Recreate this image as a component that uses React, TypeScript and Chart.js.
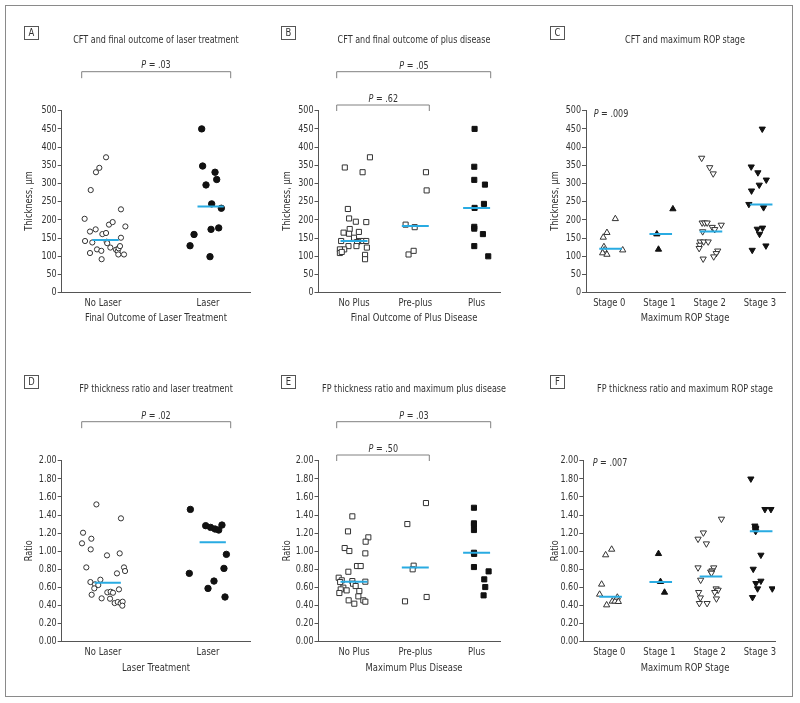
import React, { useEffect, useRef } from 'react';
import { Chart, registerables } from 'chart.js';

Chart.register(...registerables);

const FONT = "'Liberation Sans Narrow', 'DejaVu Sans Condensed', 'Arial Narrow', sans-serif";
const TEXT = '#333333';
const MED = '#29abe2';
const AXIS = '#555555';
const SQUEEZE = 0.85;

// ---------- categories ----------
const laserCats = ['No Laser', 'Laser'];
const plusCats = ['No Plus', 'Pre-plus', 'Plus'];
const stageCats = ['Stage 0', 'Stage 1', 'Stage 2', 'Stage 3'];

// ---------- tick settings ----------
const cftMax = 500;
const cftStep = 50;
const ratioMax = 2;
const ratioStep = 0.2;

// ---------- Panel A: CFT vs laser ----------
const aNoLaserVals = [203, 282, 331, 343, 372, 142, 168, 174, 138, 109, 119, 115, 92, 161, 164, 140, 136, 187, 194, 124, 118, 114, 122, 128, 105, 105, 151, 229, 182];
const aNoLaserJit = [-0.175, -0.117, -0.067, -0.035, 0.029, -0.171, -0.124, -0.07, -0.102, -0.124, -0.057, -0.016, -0.013, -0.006, 0.029, 0.035, 0.04, 0.057, 0.092, 0.07, 0.124, 0.14, 0.149, 0.162, 0.146, 0.2, 0.171, 0.171, 0.213];
const aLaserVals = [450, 348, 296, 331, 311, 244, 232, 160, 129, 174, 178, 99];
const aLaserJit = [-0.06, -0.051, -0.019, 0.067, 0.083, 0.035, 0.127, -0.133, -0.171, 0.029, 0.102, 0.019];
const aMedians = [145, 237];

// ---------- Panel B: CFT vs plus disease ----------
const bNoPlusVals = [372, 344, 331, 230, 204, 195, 194, 175, 167, 165, 162, 151, 142, 142, 142, 142, 139, 128, 128, 124, 119, 119, 109, 104, 92, 112];
const bNoPlusJit = [0.26, -0.15, 0.14, -0.1, -0.08, 0.03, 0.2, -0.07, 0.08, -0.17, -0.08, 0, -0.21, 0.09, 0.15, 0.2, 0.05, -0.09, 0.04, 0.21, -0.16, -0.23, -0.23, 0.18, 0.18, -0.2];
const bPrePlusVals = [187, 180, 105, 115, 331, 281];
const bPrePlusJit = [-0.158, -0.01, -0.11, -0.027, 0.174, 0.185];
const bPlusVals = [450, 346, 310, 297, 244, 233, 181, 176, 161, 128, 100];
const bPlusJit = [-0.033, -0.038, -0.038, 0.136, 0.12, -0.033, -0.038, -0.038, 0.103, -0.038, 0.19];
const bMedians = [142, 183, 233];

// ---------- Panel C: CFT vs ROP stage ----------
const cStage0Vals = [203, 165, 152, 126, 117, 109, 105, 117];
const cStage0Jit = [0.12, -0.047, -0.12, -0.107, -0.1, -0.133, -0.047, 0.267];
const cStage1Vals = [230, 161, 119];
const cStage1Jit = [0.267, -0.053, -0.02];
const cStage2Vals = [370, 344, 327, 192, 192, 192, 186, 180, 174, 168, 140, 140, 140, 131, 122, 115, 108, 99, 93];
const cStage2Jit = [-0.16, 0, 0.07, -0.15, -0.1, -0.05, 0.23, 0.05, 0.1, -0.14, -0.19, -0.12, -0.03, -0.2, -0.21, 0.16, 0.13, 0.08, -0.13];
const cStage3Vals = [450, 346, 330, 310, 296, 280, 243, 234, 175, 178, 161, 117, 129];
const cStage3Jit = [0.047, -0.173, -0.04, 0.127, -0.013, -0.167, -0.22, 0.073, -0.053, 0.053, -0.007, -0.153, 0.12];
const cMedians = [121, 161, 168, 242];

// ---------- Panel D: ratio vs laser ----------
const dNoLaserVals = [1.517, 1.204, 1.087, 1.138, 1.02, 1.363, 0.954, 0.976, 0.821, 0.821, 0.781, 0.755, 0.659, 0.685, 0.634, 0.626, 0.589, 0.519, 0.479, 0.545, 0.552, 0.541, 0.578, 0.475, 0.427, 0.438, 0.424, 0.442, 0.398];
const dNoLaserJit = [-0.063, -0.19, -0.2, -0.111, -0.117, 0.171, 0.038, 0.159, -0.159, 0.2, 0.21, 0.133, -0.12, -0.025, -0.076, -0.045, -0.083, -0.108, -0.013, 0.041, 0.073, 0.095, 0.152, 0.067, 0.111, 0.14, 0.168, 0.187, 0.184];
const dLaserVals = [1.462, 1.282, 1.263, 1.245, 1.234, 1.289, 0.965, 0.81, 0.755, 0.67, 0.589, 0.494];
const dLaserJit = [-0.168, -0.022, 0.025, 0.067, 0.102, 0.133, 0.175, 0.152, -0.178, 0.057, 0, 0.162];
const dMedians = [0.652, 1.098];

// ---------- Panel E: ratio vs plus disease ----------
const eNoPlusVals = [1.385, 1.219, 1.035, 1.002, 1.153, 1.105, 0.976, 0.773, 0.836, 0.836, 0.707, 0.678, 0.659, 0.67, 0.663, 0.597, 0.578, 0.567, 0.538, 0.641, 0.615, 0.56, 0.501, 0.457, 0.42, 0.457, 0.442];
const eNoPlusJit = [-0.027, -0.098, -0.152, -0.076, 0.234, 0.19, 0.185, -0.092, 0.049, 0.109, -0.25, -0.2, -0.226, -0.027, 0.185, -0.174, -0.217, -0.12, -0.239, -0.016, 0.027, 0.087, 0.071, -0.087, 0.005, 0.152, 0.185];
const ePrePlusVals = [1.3, 1.532, 0.84, 0.8, 0.446, 0.494];
const ePrePlusJit = [-0.13, 0.174, -0.027, -0.043, -0.168, 0.185];
const ePlusVals = [1.48, 1.308, 1.289, 1.234, 0.983, 0.97, 0.825, 0.777, 0.689, 0.604, 0.512];
const ePlusJit = [-0.043, -0.043, -0.043, -0.043, -0.043, -0.04, -0.043, 0.196, 0.125, 0.141, 0.114];
const eMedians = [0.663, 0.821, 0.983];

// ---------- Panel F: ratio vs ROP stage ----------
const fStage0Vals = [1.02, 0.958, 0.634, 0.523, 0.405, 0.446, 0.446, 0.49, 0.442];
const fStage0Jit = [0.047, -0.073, -0.153, -0.193, -0.053, 0.06, 0.113, 0.16, 0.18];
const fStage1Vals = [0.972, 0.663, 0.545];
const fStage1Jit = [-0.02, 0.02, 0.1];
const fStage2Vals = [1.356, 1.204, 1.135, 1.083, 0.818, 0.818, 0.785, 0.772, 0.759, 0.682, 0.586, 0.571, 0.546, 0.546, 0.486, 0.475, 0.424, 0.424];
const fStage2Jit = [0.234, -0.126, -0.232, -0.066, -0.232, 0.08, 0.047, 0.02, 0.035, -0.18, 0.128, 0.168, 0.1, -0.22, -0.186, 0.134, -0.206, -0.052];
const fStage3Vals = [1.8, 1.463, 1.463, 1.28, 1.26, 1.25, 1.24, 1.22, 0.958, 0.803, 0.645, 0.671, 0.586, 0.586, 0.49];
const fStage3Jit = [-0.18, 0.1, 0.22, -0.1, -0.09, -0.08, -0.09, -0.085, 0.02, -0.133, -0.08, 0.02, -0.047, 0.247, -0.147];
const fMedians = [0.497, 0.659, 0.72, 1.22];

// ---------- P values ----------
const pA = '.03';
const pB1 = '.05';
const pB2 = '.62';
const pC = '.009';
const pD = '.02';
const pE1 = '.03';
const pE2 = '.50';
const pF = '.007';

// ---------- marker styles ----------
const openC = '#333333';
const fillC = '#111111';
const MARK: Record<string, any> = {
  openCircle: { pointStyle: 'circle', pointRadius: 2.6, pointBorderWidth: 1, pointBackgroundColor: '#fff', pointBorderColor: openC, pointRotation: 0 },
  filledCircle: { pointStyle: 'circle', pointRadius: 3.2, pointBorderWidth: 1, pointBackgroundColor: fillC, pointBorderColor: fillC, pointRotation: 0 },
  openSquare: { pointStyle: 'rect', pointRadius: 3.6, pointBorderWidth: 1, pointBackgroundColor: '#fff', pointBorderColor: openC, pointRotation: 0 },
  filledSquare: { pointStyle: 'rect', pointRadius: 3.6, pointBorderWidth: 1, pointBackgroundColor: fillC, pointBorderColor: fillC, pointRotation: 0 },
  openTriUp: { pointStyle: 'triangle', pointRadius: 3.6, pointBorderWidth: 1, pointBackgroundColor: '#fff', pointBorderColor: openC, pointRotation: 0 },
  filledTriUp: { pointStyle: 'triangle', pointRadius: 3.6, pointBorderWidth: 1, pointBackgroundColor: fillC, pointBorderColor: fillC, pointRotation: 0 },
  openTriDown: { pointStyle: 'triangle', pointRadius: 3.6, pointBorderWidth: 1, pointBackgroundColor: '#fff', pointBorderColor: openC, pointRotation: 180 },
  filledTriDown: { pointStyle: 'triangle', pointRadius: 3.6, pointBorderWidth: 1, pointBackgroundColor: fillC, pointBorderColor: fillC, pointRotation: 180 },
};

type Group = { vals: number[]; jit: number[]; mark: string };
type Bracket = { x1: number; x2: number; y: number; h: number; p: string; tx: number; ty: number };
type Panel = {
  cx: number; cy: number; cw: number; ch: number;
  axisL: number; axisR: number; p0: number; step: number;
  plotTop: number; plotBottom: number;
  yMax: number; yStep: number; yDigits: number;
  cats: string[]; groups: Group[]; medians: number[]; medSpan: [number, number];
  letter: string; boxX: number; boxY: number;
  title: string; titleX: number; titleY: number;
  yTitle: string; yTitleX: number; yTitleY: number;
  xTitle: string; xTitleX: number; xTitleY: number;
  brackets: Bracket[];
  inner?: { p: string; x: number; y: number };
};

const TOP = { cy: 16, ch: 330, plotTop: 110.7, plotBottom: 292.7, titleY: 40.7, boxY: 26, yTitleY: 201, xTitleY: 317.7 };
const BOT = { cy: 360, ch: 335, plotTop: 460.7, plotBottom: 641.7, titleY: 389.3, boxY: 375, yTitleY: 550.7, xTitleY: 668.3 };

const panels: Panel[] = [
  {
    cx: 8, cy: TOP.cy, cw: 258, ch: TOP.ch, axisL: 61.7, axisR: 250, p0: 103, step: 105,
    plotTop: TOP.plotTop, plotBottom: TOP.plotBottom, yMax: cftMax, yStep: cftStep, yDigits: 0,
    cats: laserCats,
    groups: [
      { vals: aNoLaserVals, jit: aNoLaserJit, mark: 'openCircle' },
      { vals: aLaserVals, jit: aLaserJit, mark: 'filledCircle' },
    ],
    medians: aMedians, medSpan: [-0.1, 0.15],
    letter: 'A', boxX: 24, boxY: TOP.boxY,
    title: 'CFT and final outcome of laser treatment', titleX: 156, titleY: TOP.titleY,
    yTitle: 'Thickness, µm', yTitleX: 29.3, yTitleY: TOP.yTitleY,
    xTitle: 'Final Outcome of Laser Treatment', xTitleX: 156, xTitleY: TOP.xTitleY,
    brackets: [{ x1: 81.7, x2: 230.7, y: 71.7, h: 6.5, p: pA, tx: 156, ty: 65.7 }],
  },
  {
    cx: 266, cy: TOP.cy, cw: 258, ch: TOP.ch, axisL: 318.5, axisR: 500, p0: 354, step: 61.3,
    plotTop: TOP.plotTop, plotBottom: TOP.plotBottom, yMax: cftMax, yStep: cftStep, yDigits: 0,
    cats: plusCats,
    groups: [
      { vals: bNoPlusVals, jit: bNoPlusJit, mark: 'openSquare' },
      { vals: bPrePlusVals, jit: bPrePlusJit, mark: 'openSquare' },
      { vals: bPlusVals, jit: bPlusJit, mark: 'filledSquare' },
    ],
    medians: bMedians, medSpan: [-0.22, 0.22],
    letter: 'B', boxX: 281, boxY: TOP.boxY,
    title: 'CFT and final outcome of plus disease', titleX: 414, titleY: TOP.titleY,
    yTitle: 'Thickness, µm', yTitleX: 287.3, yTitleY: TOP.yTitleY,
    xTitle: 'Final Outcome of Plus Disease', xTitleX: 414, xTitleY: TOP.xTitleY,
    brackets: [
      { x1: 336.7, x2: 490.7, y: 71.7, h: 6.5, p: pB1, tx: 414, ty: 66 },
      { x1: 336.7, x2: 429.3, y: 105, h: 6, p: pB2, tx: 383.3, ty: 99.3 },
    ],
  },
  {
    cx: 524, cy: TOP.cy, cw: 270, ch: TOP.ch, axisL: 586, axisR: 785, p0: 609.3, step: 50.2,
    plotTop: TOP.plotTop, plotBottom: TOP.plotBottom, yMax: cftMax, yStep: cftStep, yDigits: 0,
    cats: stageCats,
    groups: [
      { vals: cStage0Vals, jit: cStage0Jit, mark: 'openTriUp' },
      { vals: cStage1Vals, jit: cStage1Jit, mark: 'filledTriUp' },
      { vals: cStage2Vals, jit: cStage2Jit, mark: 'openTriDown' },
      { vals: cStage3Vals, jit: cStage3Jit, mark: 'filledTriDown' },
    ],
    medians: cMedians, medSpan: [-0.2, 0.25],
    letter: 'C', boxX: 550, boxY: TOP.boxY,
    title: 'CFT and maximum ROP stage', titleX: 685, titleY: TOP.titleY,
    yTitle: 'Thickness, µm', yTitleX: 555, yTitleY: TOP.yTitleY,
    xTitle: 'Maximum ROP Stage', xTitleX: 685, xTitleY: TOP.xTitleY,
    brackets: [],
    inner: { p: pC, x: 611, y: 114 },
  },
  {
    cx: 8, cy: BOT.cy, cw: 258, ch: BOT.ch, axisL: 61.7, axisR: 250, p0: 103, step: 105,
    plotTop: BOT.plotTop, plotBottom: BOT.plotBottom, yMax: ratioMax, yStep: ratioStep, yDigits: 2,
    cats: laserCats,
    groups: [
      { vals: dNoLaserVals, jit: dNoLaserJit, mark: 'openCircle' },
      { vals: dLaserVals, jit: dLaserJit, mark: 'filledCircle' },
    ],
    medians: dMedians, medSpan: [-0.08, 0.17],
    letter: 'D', boxX: 24, boxY: BOT.boxY,
    title: 'FP thickness ratio and laser treatment', titleX: 156, titleY: BOT.titleY,
    yTitle: 'Ratio', yTitleX: 29.3, yTitleY: BOT.yTitleY,
    xTitle: 'Laser Treatment', xTitleX: 156, xTitleY: BOT.xTitleY,
    brackets: [{ x1: 81.7, x2: 230.7, y: 421.7, h: 6.5, p: pD, tx: 156, ty: 416 }],
  },
  {
    cx: 266, cy: BOT.cy, cw: 258, ch: BOT.ch, axisL: 318.5, axisR: 500, p0: 354, step: 61.3,
    plotTop: BOT.plotTop, plotBottom: BOT.plotBottom, yMax: ratioMax, yStep: ratioStep, yDigits: 2,
    cats: plusCats,
    groups: [
      { vals: eNoPlusVals, jit: eNoPlusJit, mark: 'openSquare' },
      { vals: ePrePlusVals, jit: ePrePlusJit, mark: 'openSquare' },
      { vals: ePlusVals, jit: ePlusJit, mark: 'filledSquare' },
    ],
    medians: eMedians, medSpan: [-0.22, 0.22],
    letter: 'E', boxX: 281, boxY: BOT.boxY,
    title: 'FP thickness ratio and maximum plus disease', titleX: 414, titleY: BOT.titleY,
    yTitle: 'Ratio', yTitleX: 287.3, yTitleY: BOT.yTitleY,
    xTitle: 'Maximum Plus Disease', xTitleX: 414, xTitleY: BOT.xTitleY,
    brackets: [
      { x1: 336.7, x2: 490.7, y: 421.7, h: 6.5, p: pE1, tx: 414, ty: 416 },
      { x1: 336.7, x2: 429.3, y: 455, h: 6, p: pE2, tx: 383.3, ty: 449.3 },
    ],
  },
  {
    cx: 524, cy: BOT.cy, cw: 270, ch: BOT.ch, axisL: 583.3, axisR: 775, p0: 609.3, step: 50.2,
    plotTop: BOT.plotTop, plotBottom: BOT.plotBottom, yMax: ratioMax, yStep: ratioStep, yDigits: 2,
    cats: stageCats,
    groups: [
      { vals: fStage0Vals, jit: fStage0Jit, mark: 'openTriUp' },
      { vals: fStage1Vals, jit: fStage1Jit, mark: 'filledTriUp' },
      { vals: fStage2Vals, jit: fStage2Jit, mark: 'openTriDown' },
      { vals: fStage3Vals, jit: fStage3Jit, mark: 'filledTriDown' },
    ],
    medians: fMedians, medSpan: [-0.2, 0.25],
    letter: 'F', boxX: 550, boxY: BOT.boxY,
    title: 'FP thickness ratio and maximum ROP stage', titleX: 685, titleY: BOT.titleY,
    yTitle: 'Ratio', yTitleX: 555, yTitleY: BOT.yTitleY,
    xTitle: 'Maximum ROP Stage', xTitleX: 685, xTitleY: BOT.xTitleY,
    brackets: [],
    inner: { p: pF, x: 610, y: 463 },
  },
];

function font(size: number, italic = false) {
  return `${italic ? 'italic ' : ''}${size}px ${FONT}`;
}

// draw text horizontally condensed so it matches the narrow typeface of the original
function sText(ctx: CanvasRenderingContext2D, str: string, x: number, y: number, size: number, align: CanvasTextAlign = 'center', italic = false) {
  ctx.save();
  ctx.font = font(size, italic);
  ctx.textAlign = align;
  ctx.textBaseline = 'middle';
  ctx.translate(x, y);
  ctx.scale(SQUEEZE, 1);
  ctx.fillText(str, 0, 0);
  ctx.restore();
}

function drawP(ctx: CanvasRenderingContext2D, val: string, cx: number, cy: number, size: number) {
  ctx.save();
  ctx.font = font(size, true);
  const wP = ctx.measureText('P').width * SQUEEZE;
  ctx.font = font(size);
  const rest = ' = ' + val;
  const wR = ctx.measureText(rest).width * SQUEEZE;
  ctx.restore();
  const x0 = cx - (wP + wR) / 2;
  sText(ctx, 'P', x0, cy, size, 'left', true);
  sText(ctx, rest, x0 + wP, cy, size, 'left');
}

function makeDecor(p: Panel) {
  return {
    id: 'decor' + p.letter,
    afterDraw(chart: any) {
      const ctx: CanvasRenderingContext2D = chart.ctx;
      const ox = p.cx;
      const oy = p.cy;
      ctx.save();
      ctx.fillStyle = TEXT;
      // letter box
      ctx.strokeStyle = '#555';
      ctx.lineWidth = 1;
      ctx.strokeRect(p.boxX - ox + 0.5, p.boxY - oy + 0.5, 14, 13);
      sText(ctx, p.letter, p.boxX - ox + 7.5, p.boxY - oy + 7.5, 11);
      // title
      sText(ctx, p.title, p.titleX - ox, p.titleY - oy, 10.5);
      // x title
      sText(ctx, p.xTitle, p.xTitleX - ox, p.xTitleY - oy, 11);
      // y title
      ctx.save();
      ctx.translate(p.yTitleX - ox, p.yTitleY - oy);
      ctx.rotate(-Math.PI / 2);
      sText(ctx, p.yTitle, 0, 0, 10.8);
      ctx.restore();
      // tick labels from the chart's own scales
      const xs = chart.scales.x;
      const ys = chart.scales.y;
      ys.ticks.forEach((t: any) => {
        const py = ys.getPixelForValue(t.value);
        sText(ctx, Number(t.value).toFixed(p.yDigits), ys.right - 5, py, 10.5, 'right');
      });
      xs.ticks.forEach((t: any, i: number) => {
        const px = xs.getPixelForValue(t.value);
        sText(ctx, p.cats[i], px, xs.top + 10, 11);
      });
      // brackets
      ctx.strokeStyle = '#808080';
      ctx.lineWidth = 1;
      p.brackets.forEach((b) => {
        ctx.beginPath();
        ctx.moveTo(b.x1 - ox, b.y - oy + b.h);
        ctx.lineTo(b.x1 - ox, b.y - oy);
        ctx.lineTo(b.x2 - ox, b.y - oy);
        ctx.lineTo(b.x2 - ox, b.y - oy + b.h);
        ctx.stroke();
        drawP(ctx, b.p, b.tx - ox, b.ty - oy, 10.5);
      });
      if (p.inner) {
        drawP(ctx, p.inner.p, p.inner.x - ox, p.inner.y - oy, 10.5);
      }
      ctx.restore();
    },
  };
}

function buildConfig(p: Panel): any {
  const xMin = -(p.p0 - p.axisL) / p.step;
  const xMax = (p.axisR - p.p0) / p.step;
  const datasets: any[] = [];
  p.medians.forEach((m, i) => {
    datasets.push({
      data: [{ x: i + p.medSpan[0], y: m }, { x: i + p.medSpan[1], y: m }],
      showLine: true,
      borderColor: MED,
      borderWidth: 2,
      pointRadius: 0,
      pointHoverRadius: 0,
    });
  });
  p.groups.forEach((g, ci) => {
    datasets.push({
      data: g.vals.map((v, j) => ({ x: ci + g.jit[j], y: v })),
      showLine: false,
      ...MARK[g.mark],
    });
  });
  const padTop = p.plotTop - p.cy;
  const xH = 20;
  const padBottom = p.ch - (p.plotBottom - p.cy) - xH;
  const yW = p.axisL - p.cx;
  const padRight = p.cx + p.cw - p.axisR;
  return {
    type: 'scatter',
    data: { datasets },
    options: {
      animation: false,
      responsive: false,
      devicePixelRatio: 1,
      events: [],
      layout: { padding: { top: padTop, bottom: padBottom, left: 0, right: padRight } },
      plugins: { legend: { display: false }, tooltip: { enabled: false }, title: { display: false } },
      scales: {
        x: {
          type: 'linear',
          min: xMin,
          max: xMax,
          grid: { display: false, drawTicks: false },
          border: { display: true, color: AXIS, width: 1 },
          ticks: { display: false },
          afterBuildTicks: (s: any) => {
            s.ticks = p.cats.map((_c, i) => ({ value: i }));
          },
          afterFit: (s: any) => {
            s.height = xH;
          },
        },
        y: {
          type: 'linear',
          min: 0,
          max: p.yMax,
          grid: { drawOnChartArea: false, drawTicks: true, tickLength: 4, color: AXIS },
          border: { display: true, color: AXIS, width: 1 },
          ticks: { stepSize: p.yStep, display: false },
          afterFit: (s: any) => {
            s.width = yW;
          },
        },
      },
    },
    plugins: [makeDecor(p)],
  };
}

function PanelChart({ p }: { p: Panel }) {
  const ref = useRef<HTMLCanvasElement>(null);
  useEffect(() => {
    const chart = new Chart(ref.current as HTMLCanvasElement, buildConfig(p));
    return () => chart.destroy();
  }, []);
  return (
    <canvas
      ref={ref}
      width={p.cw}
      height={p.ch}
      style={{ position: 'absolute', left: p.cx, top: p.cy, width: p.cw, height: p.ch }}
    />
  );
}

export default function App() {
  return (
    <div style={{ position: 'fixed', left: 0, top: 0, width: 800, height: 703, background: '#fff', overflow: 'hidden' }}>
      <div
        style={{
          position: 'absolute',
          left: 5,
          top: 5,
          width: 788,
          height: 692,
          border: '1.5px solid #8a8a8a',
          boxSizing: 'border-box',
        }}
      />
      {panels.map((p) => (
        <PanelChart key={p.letter} p={p} />
      ))}
    </div>
  );
}
